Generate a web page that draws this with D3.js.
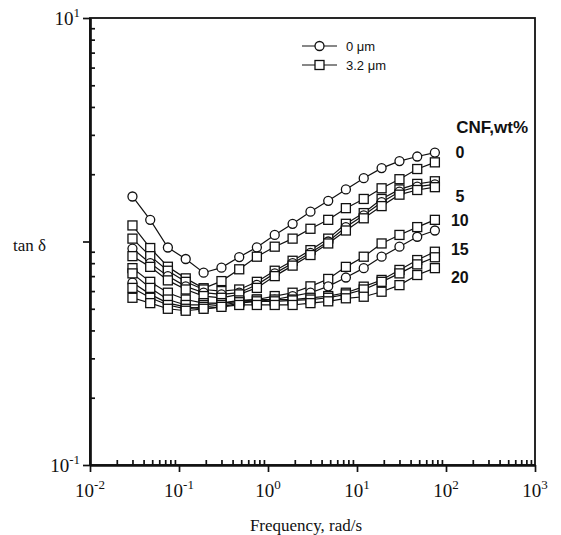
<!DOCTYPE html>
<html>
<head>
<meta charset="utf-8">
<script src="https://cdn.jsdelivr.net/npm/d3@7"></script>
<style>
  body { margin: 0; background: #fff; }
  svg { display: block; }
</style>
</head>
<body>
<div id="chart"></div>
<script>
// frequency, rad/s
var freq = [0.03, 0.0475, 0.075, 0.119, 0.189, 0.3, 0.475, 0.75, 1.19, 1.89,
            3.0, 4.75, 7.5, 11.9, 18.9, 30, 47.5, 75];

// tan delta, one array per curve (circle = 0 um, square = 3.2 um)
var s0c  = [1.59, 1.25, 0.94, 0.835, 0.725, 0.764, 0.852, 0.942, 1.07, 1.2, 1.36, 1.52, 1.71, 1.92, 2.13, 2.29, 2.40, 2.50];
var s0s  = [1.18, 0.935, 0.771, 0.684, 0.618, 0.665, 0.751, 0.855, 0.948, 1.03, 1.14, 1.25, 1.41, 1.55, 1.73, 1.90, 2.11, 2.26];
var s5s  = [1.03, 0.86, 0.74, 0.66, 0.61, 0.60, 0.61, 0.66, 0.74, 0.82, 0.915, 1.03, 1.2, 1.34, 1.55, 1.71, 1.81, 1.86];
var s5c  = [0.93, 0.80, 0.70, 0.63, 0.59, 0.58, 0.59, 0.64, 0.72, 0.80, 0.89, 1.0, 1.16, 1.31, 1.50, 1.67, 1.76, 1.80];
var s5s2 = [0.86, 0.77, 0.67, 0.61, 0.57, 0.56, 0.58, 0.62, 0.70, 0.78, 0.87, 0.98, 1.12, 1.27, 1.44, 1.62, 1.70, 1.75];
var s10s = [0.76, 0.66, 0.59, 0.55, 0.53, 0.53, 0.54, 0.55, 0.57, 0.59, 0.63, 0.68, 0.77, 0.855, 0.98, 1.07, 1.16, 1.25];
var s10c = [0.655, 0.58, 0.53, 0.51, 0.50, 0.51, 0.53, 0.54, 0.55, 0.57, 0.59, 0.63, 0.69, 0.76, 0.855, 0.948, 1.05, 1.12];
var s15s = [0.72, 0.62, 0.55, 0.52, 0.52, 0.53, 0.545, 0.55, 0.55, 0.55, 0.56, 0.57, 0.59, 0.628, 0.673, 0.746, 0.826, 0.90];
var s15s2 = [0.62, 0.56, 0.52, 0.50, 0.51, 0.52, 0.535, 0.54, 0.54, 0.545, 0.55, 0.56, 0.58, 0.61, 0.66, 0.72, 0.79, 0.85];
var s20s = [0.56, 0.53, 0.50, 0.49, 0.50, 0.51, 0.52, 0.52, 0.52, 0.52, 0.53, 0.54, 0.557, 0.566, 0.596, 0.638, 0.708, 0.76];

var series = [
  {values: s0c, marker: "circle"}, {values: s0s, marker: "square"},
  {values: s5s, marker: "square"}, {values: s5c, marker: "circle"},
  {values: s5s2, marker: "square"}, {values: s10s, marker: "square"},
  {values: s10c, marker: "circle"}, {values: s15s, marker: "square"},
  {values: s15s2, marker: "square"}, {values: s20s, marker: "square"}
];

// CNF wt% labels and the tan delta level they sit at
var wtLabels = ["0", "5", "10", "15", "20"];
var wtLevels = [2.5, 1.59, 1.24, 0.923, 0.689];

var xMajor = [1e-2, 1e-1, 1e0, 1e1, 1e2, 1e3];
var xExp = ["-2", "-1", "0", "1", "2", "3"];
var yMajor = [1e-1, 1e0, 1e1];
var yLabelled = [1e-1, 1e1];
var yExp = ["-1", "1"];

var legendItems = [{marker: "circle", text: "0 \u03bcm"}, {marker: "square", text: "3.2 \u03bcm"}];

var W = 561, H = 535;
var plotL = 90, plotR = 535, plotT = 18, plotB = 465;

var svg = d3.select("#chart").append("svg")
  .attr("width", W).attr("height", H);

var x = d3.scaleLog().domain([1e-2, 1e3]).range([plotL, plotR]);
var y = d3.scaleLog().domain([0.1, 10]).range([plotB, plotT]);

function minors(lo, hi) {
  var out = [];
  for (var e = lo; e < hi; e++) {
    for (var k = 2; k <= 9; k++) out.push(k * Math.pow(10, e));
  }
  return out;
}

var serif = "'Liberation Serif', 'Times New Roman', serif";
var sans = "'Liberation Sans', Arial, Helvetica, sans-serif";

// frame
svg.append("rect")
  .attr("x", plotL).attr("y", plotT)
  .attr("width", plotR - plotL).attr("height", plotB - plotT)
  .attr("fill", "none").attr("stroke", "#111").attr("stroke-width", 1.8);

// x axis
var gx = svg.append("g").attr("transform", "translate(0," + plotB + ")");
gx.call(d3.axisBottom(x).tickValues(xMajor).tickSize(7).tickSizeOuter(0).tickFormat(""));
gx.append("g").call(d3.axisBottom(x).tickValues(minors(-2, 3)).tickSize(-5).tickSizeOuter(0).tickFormat(""));
gx.selectAll(".domain").attr("stroke-width", 2.2).attr("stroke", "#111");
gx.selectAll(".tick line").attr("stroke-width", 1.7).attr("stroke", "#111");

// y axis
var gy = svg.append("g").attr("transform", "translate(" + plotL + ",0)");
gy.call(d3.axisLeft(y).tickValues(yMajor).tickSize(7).tickSizeOuter(0).tickFormat(""));
gy.append("g").call(d3.axisLeft(y).tickValues(minors(-1, 1)).tickSize(-5).tickSizeOuter(0).tickFormat(""));
gy.selectAll(".domain").attr("stroke-width", 2.2).attr("stroke", "#111");
gy.selectAll(".tick line").attr("stroke-width", 1.7).attr("stroke", "#111");

// x tick labels
xMajor.forEach(function(v, i) {
  var t = svg.append("text")
    .attr("x", x(v)).attr("y", plotB + 32)
    .attr("text-anchor", "middle")
    .attr("font-family", serif).attr("font-size", 19).attr("fill", "#111");
  t.append("tspan").text("10");
  t.append("tspan").attr("dy", -8).attr("font-size", 13).text(xExp[i]);
});

// y tick labels
yLabelled.forEach(function(v, i) {
  var t = svg.append("text")
    .attr("x", plotL - 10).attr("y", y(v) + 7)
    .attr("text-anchor", "end")
    .attr("font-family", serif).attr("font-size", 19).attr("fill", "#111");
  t.append("tspan").text("10");
  t.append("tspan").attr("dy", -8).attr("font-size", 13).text(yExp[i]);
});

// axis titles
svg.append("text")
  .attr("x", 306).attr("y", 531)
  .attr("text-anchor", "middle")
  .attr("font-family", serif).attr("font-size", 17).attr("fill", "#111")
  .text("Frequency, rad/s");

svg.append("text")
  .attr("x", 13).attr("y", 251)
  .attr("font-family", serif).attr("font-size", 17).attr("fill", "#111")
  .text("tan \u03b4");

// curves
var line = d3.line()
  .x(function(d, i) { return x(freq[i]); })
  .y(function(d) { return y(d); });

svg.selectAll("path.curve")
  .data(series)
  .enter()
  .append("path")
  .attr("class", "curve")
  .attr("d", function(d) { return line(d.values); })
  .attr("fill", "none")
  .attr("stroke", "#111")
  .attr("stroke-width", 1.2);

function drawMarker(g, type, cx, cy) {
  if (type === "circle") {
    g.append("circle")
      .attr("cx", cx).attr("cy", cy).attr("r", 4.5)
      .attr("fill", "#fff").attr("stroke", "#111").attr("stroke-width", 1.3);
  } else {
    g.append("rect")
      .attr("x", cx - 4.5).attr("y", cy - 4.5)
      .attr("width", 9).attr("height", 9)
      .attr("fill", "#fff").attr("stroke", "#111").attr("stroke-width", 1.3);
  }
}

var markers = svg.append("g");
series.forEach(function(s) {
  s.values.forEach(function(v, i) {
    drawMarker(markers, s.marker, x(freq[i]), y(v));
  });
});

// legend
var lg = svg.append("g");
legendItems.forEach(function(d, i) {
  var ly = 46 + i * 19;
  lg.append("line")
    .attr("x1", 302).attr("x2", 337).attr("y1", ly).attr("y2", ly)
    .attr("stroke", "#111").attr("stroke-width", 1.2);
  drawMarker(lg, d.marker, 319.5, ly);
  lg.append("text")
    .attr("x", 346).attr("y", ly + 4.5)
    .attr("font-family", sans).attr("font-size", 13).attr("fill", "#111")
    .text(d.text);
});

// CNF wt% labels
svg.append("text")
  .attr("x", 528).attr("y", 133)
  .attr("text-anchor", "end")
  .attr("font-family", sans).attr("font-size", 17).attr("font-weight", "bold").attr("fill", "#111")
  .text("CNF,wt%");

wtLabels.forEach(function(t, i) {
  svg.append("text")
    .attr("x", x(freq[freq.length - 1]) + 25).attr("y", y(wtLevels[i]) + 5.5)
    .attr("text-anchor", "middle")
    .attr("font-family", sans).attr("font-size", 16).attr("font-weight", "bold").attr("fill", "#111")
    .text(t);
});
</script>
</body>
</html>
